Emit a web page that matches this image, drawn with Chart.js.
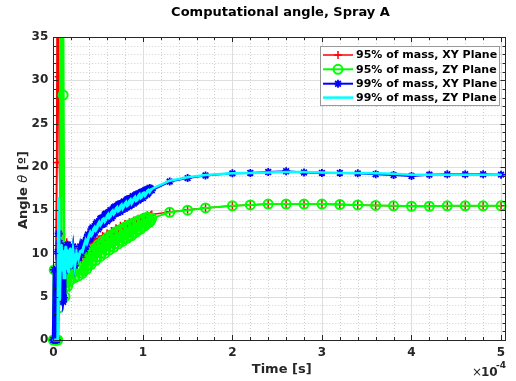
<!DOCTYPE html>
<html>
<head>
<meta charset="utf-8">
<script src="https://cdn.jsdelivr.net/npm/chart.js@4.4.1/dist/chart.umd.min.js"></script>
<style>
  html, body { margin: 0; padding: 0; background: #fff; }
</style>
</head>
<body>
<canvas id="angleChart" width="516" height="381"></canvas>
<script>
// time, in units of 1e-4 s (axis shows x10^-4)
const timeE4 = [
  0, 0.01, 0.02, 0.03, 0.04, 0.05, 0.06, 0.07, 0.08, 0.09, 0.10, 0.11, 0.12,
  0.13, 0.14, 0.15, 0.16, 0.17, 0.18, 0.19, 0.20, 0.22, 0.24, 0.26, 0.28, 0.30,
  0.3125, 0.325, 0.3375, 0.35, 0.3625, 0.375, 0.3875, 0.40, 0.4125, 0.425, 0.4375, 0.45,
  0.4625, 0.475, 0.4875, 0.50, 0.5125, 0.525, 0.5375, 0.55, 0.5625, 0.575, 0.5875, 0.60,
  0.6125, 0.625, 0.6375, 0.65, 0.6625, 0.675, 0.6875, 0.70, 0.7125, 0.725, 0.7375, 0.75,
  0.7625, 0.775, 0.7875, 0.80, 0.8125, 0.825, 0.8375, 0.85, 0.8625, 0.875, 0.8875, 0.90,
  0.9125, 0.925, 0.9375, 0.95, 0.9625, 0.975, 0.9875, 1.00, 1.0125, 1.025, 1.0375, 1.05,
  1.0625, 1.075, 1.0875, 1.10,
  1.3, 1.5, 1.7, 2.0, 2.2, 2.4, 2.6, 2.8, 3.0, 3.2, 3.4, 3.6, 3.8, 4.0, 4.2,
  4.4, 4.6, 4.8, 5.0
];

const mass95XY = [
  0, 0, 0, 0, 20.5, 62, 30.4, 20.5, 15.1, 12.2, 9.0, 10.6, 8.2,
  9.8, 7.6, 11.3, 8.6, 9.6, 7.8, 9.2, 8.4, 9.6, 8.9, 10.2, 9.0, 9.8,
  9.6, 9.9, 9.6, 9.2, 9.8, 10.4, 10.2, 9.8, 10.9, 11.4, 11.2, 11.7,
  11.3, 10.9, 11.2, 11.6, 11.5, 11.0, 11.6, 12.0, 11.9, 11.3, 11.9, 12.3,
  12.2, 11.6, 12.2, 12.6, 12.5, 11.9, 12.5, 12.9, 12.8, 12.2, 12.8, 13.2,
  13.0, 12.5, 13.0, 13.4, 13.3, 12.8, 13.3, 13.6, 13.5, 13.0, 13.4, 13.8,
  13.7, 13.2, 13.6, 14.0, 13.9, 13.5, 13.8, 14.2, 14.1, 13.8, 14.1, 14.4,
  14.3, 14.1, 14.4, 14.5,
  14.8, 15.05, 15.25, 15.5, 15.6, 15.7, 15.7, 15.7, 15.7, 15.65, 15.6, 15.55, 15.5, 15.45, 15.45,
  15.5, 15.5, 15.5, 15.5
];

const mass95ZY = [
  0, 8.1, 0, 0, 0, 0, 3.7, 5.6, 9.0, 60, 60, 28.3, 6.0,
  5.0, 6.6, 7.4, 6.2, 7.6, 6.8, 7.9, 7.0, 7.8, 7.2, 8.3, 7.4, 8.1,
  8.4, 7.7, 8.0, 9.3, 9.3, 8.2, 8.6, 10.0, 9.9, 8.75, 9.1, 10.5,
  10.3, 9.2, 9.6, 11.0, 10.8, 9.65, 10.0, 11.4, 11.2, 10.0, 10.4, 11.8,
  11.6, 10.4, 10.8, 12.15, 12.0, 10.7, 11.1, 12.5, 12.3, 11.1, 11.4, 12.75,
  12.6, 11.4, 11.7, 13.05, 12.9, 11.75, 12.0, 13.3, 13.2, 12.05, 12.3, 13.55,
  13.5, 12.45, 12.7, 13.8, 13.7, 12.8, 13.0, 14.0, 13.9, 13.2, 13.4, 14.2,
  14.1, 13.6, 13.8, 14.05,
  14.75, 15.0, 15.25, 15.5, 15.6, 15.7, 15.7, 15.7, 15.7, 15.65, 15.6, 15.55, 15.5, 15.45, 15.45,
  15.5, 15.5, 15.5, 15.5
];

const mass99XY = [
  0, 8.1, 0, 0, 0, 10.2, 12.3, 11.2, 9.8, 8.5, 6.2, 4.4, 4.9,
  8.0, 10.8, 9.2, 11.0, 10.0, 8.8, 10.6, 9.4, 10.8, 8.6, 9.9, 9.5, 10.8,
  10.0, 10.9, 11.3, 10.5, 10.8, 11.8, 12.2, 11.6, 11.7, 12.8, 13.0, 12.15,
  12.4, 13.4, 13.6, 12.8, 13.0, 14.0, 14.1, 13.35, 13.4, 14.5, 14.6, 13.7,
  13.9, 14.8, 15.0, 14.1, 14.3, 15.3, 15.4, 14.6, 14.7, 15.65, 15.7, 14.8,
  15.0, 15.85, 16.0, 15.15, 15.3, 16.25, 16.3, 15.45, 15.6, 16.45, 16.6, 15.75,
  15.9, 16.8, 16.85, 16.1, 16.25, 17.05, 17.1, 16.4, 16.6, 17.3, 17.35, 16.8,
  17.0, 17.55, 17.5, 17.3,
  18.3, 18.7, 19.0, 19.25, 19.3, 19.4, 19.5, 19.35, 19.3, 19.3, 19.25, 19.15, 19.05, 18.95, 19.1,
  19.15, 19.15, 19.15, 19.1
];

const mass99ZY = [
  0, 0, 0, 0, 0, 0, 16.4, 4.6, 9.5, 11.0, 8.0, 10.2, 7.2,
  9.6, 10.8, 8.2, 10.4, 7.8, 9.4, 10.6, 8.4, 10.3, 8.6, 10.0, 9.4, 10.2,
  10.3, 10.2, 10.7, 11.1, 11.5, 11.2, 11.6, 12.1, 12.4, 12.1, 12.3, 12.8,
  13.0, 12.7, 12.9, 13.4, 13.6, 13.3, 13.5, 13.9, 14.0, 13.7, 13.9, 14.3,
  14.5, 14.15, 14.3, 14.75, 14.9, 14.55, 14.7, 15.15, 15.3, 14.9, 15.0, 15.45,
  15.6, 15.2, 15.4, 15.75, 15.9, 15.5, 15.6, 16.05, 16.2, 15.8, 16.0, 16.35,
  16.5, 16.1, 16.2, 16.65, 16.8, 16.4, 16.5, 16.95, 17.0, 16.7, 16.9, 17.2,
  17.3, 17.1, 17.3, 17.45,
  18.4, 18.8, 19.05, 19.25, 19.3, 19.35, 19.4, 19.4, 19.35, 19.3, 19.3, 19.25, 19.2, 19.1, 19.1,
  19.1, 19.1, 19.1, 19.1
];

const seriesLabels = [
  '95% of mass, XY Plane',
  '95% of mass, ZY Plane',
  '99% of mass, XY Plane',
  '99% of mass, ZY Plane'
];

const xTicksE4 = [0, 1, 2, 3, 4, 5];
const xMaxE4 = 5.05;
const yMin = 0, yMax = 35, yStep = 5;

const FONT = '"DejaVu Sans", sans-serif';
const INK = '#262626';

const toPoints = vals => timeE4.map((t, i) => ({ x: t * 1e-4, y: vals[i] }));
// the densely sampled start of the run (up to 1.1e-4 s) is drawn a little heavier
const isDense = i => timeE4[i] < 1.1;

const styles = [
  { color: '#ff0000', width: 1.5, dense: 2, pointStyle: 'cross', radius: 4, pw: 1.5, order: 3 },
  { color: '#00ff00', width: 2, dense: 3, pointStyle: 'circle', radius: 4.5, pw: 2, order: 2 },
  { color: '#0000ff', width: 2, dense: 3, pointStyle: 'star', radius: 4, pw: 1.8, order: 1 },
  { color: '#00ffff', width: 2.5, dense: 3, pointStyle: 'circle', radius: 1, pw: 0, order: 0 }
];
const seriesValues = [mass95XY, mass95ZY, mass99XY, mass99ZY];

const datasets = seriesValues.map((vals, i) => ({
  label: seriesLabels[i],
  data: toPoints(vals),
  showLine: true,
  borderColor: styles[i].color,
  backgroundColor: i === 3 ? styles[i].color : 'rgba(0,0,0,0)',
  borderWidth: styles[i].width,
  segment: {
    borderWidth: c => isDense(c.p0DataIndex) ? styles[i].dense : styles[i].width
  },
  pointStyle: styles[i].pointStyle,
  pointRadius: styles[i].radius,
  pointBorderWidth: styles[i].pw,
  pointBorderColor: styles[i].color,
  pointBackgroundColor: i === 3 ? styles[i].color : 'rgba(0,0,0,0)',
  pointHoverRadius: styles[i].radius,
  tension: 0,
  order: styles[i].order,
  clip: { left: 8, top: 0, right: 8, bottom: 8 }
}));

// grid, box, inward ticks on all sides, legend and labels in MATLAB style
const matlabAxes = {
  id: 'matlabAxes',
  beforeDatasetsDraw(chart) {
    const { ctx, chartArea: a, scales: { x, y } } = chart;
    ctx.save();
    ctx.lineWidth = 1;
    // minor grid
    ctx.strokeStyle = '#cfcfcf';
    ctx.setLineDash([1, 2]);
    ctx.beginPath();
    for (let i = 1; i <= 25; i++) {
      if (i % 5 === 0) continue;
      const px = Math.round(x.getPixelForValue(i * 0.2e-4)) + 0.5;
      ctx.moveTo(px, a.top); ctx.lineTo(px, a.bottom);
    }
    for (let i = 1; i < 35; i++) {
      if (i % 5 === 0) continue;
      const py = Math.round(y.getPixelForValue(i)) + 0.5;
      ctx.moveTo(a.left, py); ctx.lineTo(a.right, py);
    }
    ctx.stroke();
    // major grid
    ctx.setLineDash([]);
    ctx.strokeStyle = '#dedede';
    ctx.beginPath();
    for (let i = 1; i <= 5; i++) {
      const px = Math.round(x.getPixelForValue(i * 1e-4)) + 0.5;
      ctx.moveTo(px, a.top); ctx.lineTo(px, a.bottom);
    }
    for (let v = yStep; v < yMax; v += yStep) {
      const py = Math.round(y.getPixelForValue(v)) + 0.5;
      ctx.moveTo(a.left, py); ctx.lineTo(a.right, py);
    }
    ctx.stroke();
    ctx.restore();
  },
  afterDatasetsDraw(chart) {
    const { ctx, chartArea: a, scales: { x, y } } = chart;
    ctx.save();
    ctx.strokeStyle = INK;
    ctx.lineWidth = 1;
    ctx.beginPath();
    for (let i = 0; i <= 25; i++) {
      const len = i % 5 === 0 ? 5 : 3;
      const px = Math.round(x.getPixelForValue(i * 0.2e-4)) + 0.5;
      ctx.moveTo(px, a.bottom); ctx.lineTo(px, a.bottom - len);
      ctx.moveTo(px, a.top); ctx.lineTo(px, a.top + len);
    }
    for (let i = 0; i <= 35; i++) {
      const len = i % 5 === 0 ? 5 : 3;
      const py = Math.round(y.getPixelForValue(i)) + 0.5;
      ctx.moveTo(a.left, py); ctx.lineTo(a.left + len, py);
      ctx.moveTo(a.right, py); ctx.lineTo(a.right - len, py);
    }
    ctx.stroke();
    ctx.strokeRect(Math.round(a.left) + 0.5, Math.round(a.top) + 0.5,
      Math.round(a.right - a.left), Math.round(a.bottom - a.top));
    ctx.restore();
  },
  afterDraw(chart) {
    const { ctx } = chart;
    ctx.save();
    ctx.fillStyle = '#000';
    // title
    ctx.font = 'bold 13px ' + FONT;
    ctx.textAlign = 'center';
    ctx.textBaseline = 'alphabetic';
    ctx.fillText('Computational angle, Spray A', 280.5, 16);
    // x label
    ctx.fillStyle = INK;
    ctx.fillText('Time [s]', 281.7, 372.5);
    // exponent
    ctx.textAlign = 'left';
    ctx.font = '12px ' + FONT;
    ctx.fillText('\u00d7', 472, 376);
    ctx.font = 'bold 12px ' + FONT;
    ctx.fillText('10', 481, 376);
    ctx.font = 'bold 9px ' + FONT;
    ctx.fillText('-4', 496, 368);
    // y label
    ctx.save();
    ctx.translate(27, 190);
    ctx.rotate(-Math.PI / 2);
    const parts = [
      ['Angle ', 'bold 13px ' + FONT],
      ['\u03b8', 'italic 13px ' + FONT],
      [' [\u00ba]', 'bold 13px ' + FONT]
    ];
    let total = 0;
    parts.forEach(p => { ctx.font = p[1]; total += ctx.measureText(p[0]).width; });
    let cx = -total / 2;
    parts.forEach(p => { ctx.font = p[1]; ctx.fillText(p[0], cx, 0); cx += ctx.measureText(p[0]).width; });
    ctx.restore();

    // legend
    const box = { l: 320.5, t: 46.5, w: 179, h: 59 };
    ctx.fillStyle = '#fff';
    ctx.fillRect(box.l, box.t, box.w, box.h);
    ctx.strokeStyle = '#9a9a9a';
    ctx.lineWidth = 1;
    ctx.strokeRect(box.l, box.t, box.w, box.h);
    const rows = [55, 69.3, 83.7, 97.6];
    ctx.font = 'bold 11px ' + FONT;
    ctx.textBaseline = 'middle';
    seriesLabels.forEach((label, i) => {
      const s = styles[i];
      const ry = rows[i];
      ctx.strokeStyle = s.color;
      ctx.lineWidth = s.width;
      ctx.beginPath();
      ctx.moveTo(323, ry); ctx.lineTo(353, ry);
      ctx.stroke();
      ctx.fillStyle = i === 3 ? s.color : 'rgba(0,0,0,0)';
      ctx.lineWidth = s.pw;
      Chart.helpers.drawPoint(ctx, {
        pointStyle: s.pointStyle, radius: s.radius, rotation: 0, borderWidth: s.pw
      }, 338, ry);
      ctx.fillStyle = '#000';
      ctx.fillText(label, 356, ry + 0.5);
    });
    ctx.restore();
  }
};

new Chart(document.getElementById('angleChart').getContext('2d'), {
  type: 'scatter',
  data: { datasets },
  options: {
    responsive: false,
    animation: false,
    events: [],
    layout: { padding: { top: 37, right: 10.5, left: 0, bottom: 0 } },
    plugins: {
      legend: { display: false },
      title: { display: false },
      tooltip: { enabled: false }
    },
    scales: {
      x: {
        type: 'linear',
        min: 0,
        max: xMaxE4 * 1e-4,
        grid: { display: false, drawTicks: false },
        border: { display: false },
        afterFit: s => { s.height = 41; },
        afterBuildTicks: s => {
          s.ticks = xTicksE4.map(v => ({ value: v * 1e-4 }));
        },
        ticks: {
          autoSkip: false,
          maxRotation: 0,
          padding: 6,
          color: INK,
          font: { family: FONT, size: 12, weight: 'bold' },
          callback: v => String(Math.round(v / 1e-4))
        }
      },
      y: {
        min: yMin,
        max: yMax,
        grid: { display: false, drawTicks: false },
        border: { display: false },
        afterFit: s => { s.width = 53.3; },
        ticks: {
          stepSize: yStep,
          padding: 5,
          color: INK,
          font: { family: FONT, size: 12, weight: 'bold' }
        }
      }
    }
  },
  plugins: [matlabAxes]
});
</script>
</body>
</html>
